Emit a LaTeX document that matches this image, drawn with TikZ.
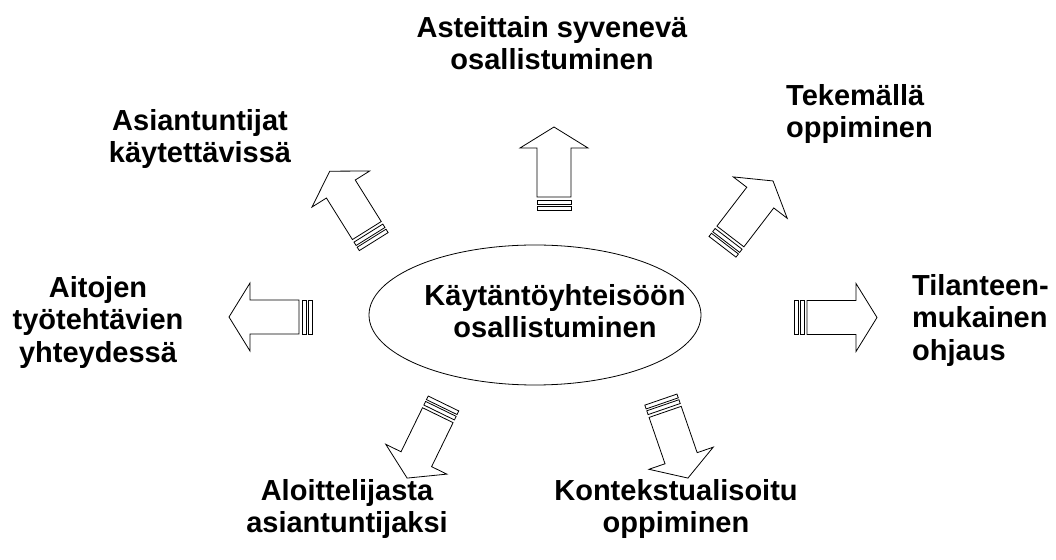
\documentclass[tikz,border=0pt]{standalone}
\usepackage{fontspec}
\setmainfont{Liberation Sans}
\usetikzlibrary{shapes.geometric}

\tikzset{
  label/.style={font=\bfseries\fontsize{29}{32.5}\selectfont, inner sep=0pt, align=center},
  leftlabel/.style={label, align=left, anchor=west},
  outline/.style={draw=black, line width=0.8pt, fill=white, line join=miter},
  % block arrow pointing along +x, its back end (the two stripes) at the origin
  stripe arrow/.pic={
    \draw[outline] (0,-17) rectangle (4,17);
    \draw[outline] (6,-17) rectangle (10,17);
    \draw[outline] (13,-17) -- (62,-17) -- (62,-34) -- (83,0) -- (62,34) -- (62,17) -- (13,17) -- cycle;
  }
}

\begin{document}
\begin{tikzpicture}[x=1pt, y=1pt]
  \useasboundingbox (0,0) rectangle (1056,559);

  % central community ellipse
  \node[ellipse, draw, line width=0.8pt, minimum width=332pt, minimum height=140pt, inner sep=0pt]
    (core) at (535,244) {};
  \node[label] (coretext) at (555,248) {Käytäntöyhteisöön\\osallistuminen};

  % arrows radiating outwards
  \pic[rotate=90]    (aup)    at (554,349)   {stripe arrow};
  \pic[rotate=0]     (aright) at (794,241.5) {stripe arrow};
  \pic[rotate=180]   (aleft)  at (312,242)   {stripe arrow};
  \pic[rotate=122]   (aul)    at (373.7,317.4) {stripe arrow};
  \pic[rotate=52.5]  (aur)    at (722.5,312.2) {stripe arrow};
  \pic[rotate=-71]   (alr)    at (660.9,159.4) {stripe arrow};
  \pic[rotate=-116]  (all)    at (443.5,155.5) {stripe arrow};

  % surrounding labels
  \node[label] (deep) at (552,516) {Asteittain syvenevä\\osallistuminen};
  \node[label] (experts) at (200,420) {Asiantuntijat\\käytettävissä};
  \node[label] (authentic) at (98,236.5) {Aitojen\\työtehtävien\\yhteydessä};
  \node[leftlabel] (doing) at (786,445) {Tekemällä\\oppiminen};
  \node[leftlabel] (situated) at (912,238.5) {Tilanteen-\\mukainen\\ohjaus};
  \node[label] (novice) at (347,50) {Aloittelijasta\\asiantuntijaksi};
  \node[label] (context) at (676,50) {Kontekstualisoitu\\oppiminen};
\end{tikzpicture}
\end{document}
